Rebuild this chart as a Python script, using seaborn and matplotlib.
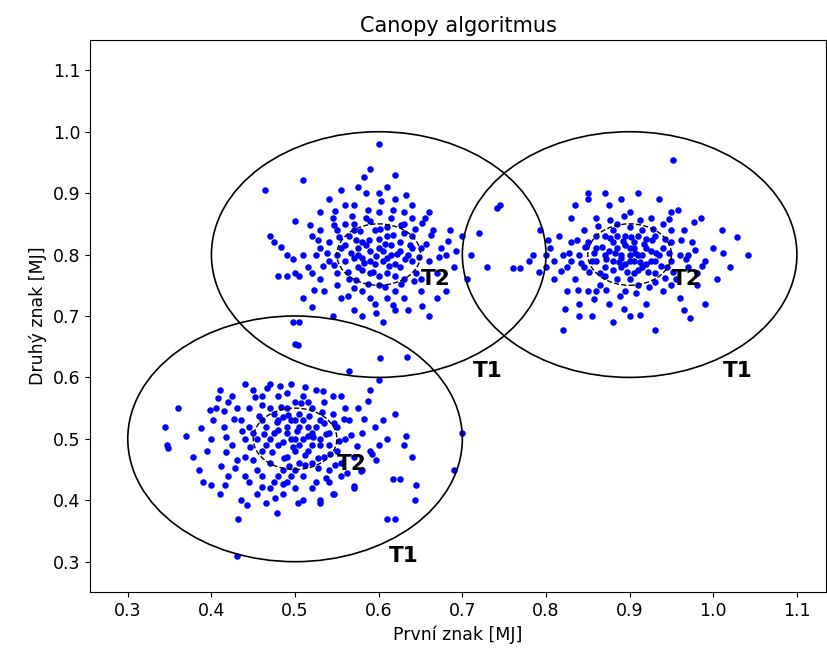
import numpy as np
import pandas as pd
import matplotlib
matplotlib.use("Agg")
import matplotlib.pyplot as plt
import seaborn as sns

# cluster centres and canopy thresholds
centers_x = [0.5, 0.6, 0.9]
centers_y = [0.5, 0.8, 0.8]
t1_radius = 0.2
t2_radius = 0.05

# points, one list per cluster
cluster_a = [
    (0.345, 0.52), (0.347, 0.49), (0.348, 0.485), (0.36, 0.55), (0.37, 0.505), (0.378, 0.47),
    (0.385, 0.45), (0.39, 0.43), (0.395, 0.48), (0.40, 0.425), (0.40, 0.50), (0.402, 0.53),
    (0.405, 0.55), (0.41, 0.58), (0.41, 0.41), (0.412, 0.455), (0.415, 0.52), (0.42, 0.44),
    (0.42, 0.56), (0.425, 0.49), (0.43, 0.31), (0.432, 0.37), (0.435, 0.53), (0.435, 0.40),
    (0.44, 0.59), (0.44, 0.47), (0.445, 0.55), (0.445, 0.43), (0.45, 0.51), (0.45, 0.58),
    (0.455, 0.45), (0.455, 0.41), (0.46, 0.53), (0.46, 0.57), (0.465, 0.49), (0.465, 0.395),
    (0.47, 0.59), (0.47, 0.55), (0.47, 0.46), (0.475, 0.51), (0.475, 0.43), (0.478, 0.38),
    (0.48, 0.57), (0.48, 0.53), (0.48, 0.49), (0.485, 0.45), (0.485, 0.41), (0.49, 0.55),
    (0.49, 0.51), (0.49, 0.47), (0.495, 0.59), (0.495, 0.53), (0.495, 0.44), (0.50, 0.50),
    (0.50, 0.56), (0.50, 0.48), (0.50, 0.42), (0.50, 0.655), (0.498, 0.69), (0.505, 0.52),
    (0.505, 0.46), (0.505, 0.54), (0.51, 0.50), (0.51, 0.57), (0.51, 0.44), (0.51, 0.40),
    (0.515, 0.52), (0.515, 0.48), (0.52, 0.55), (0.52, 0.46), (0.52, 0.51), (0.525, 0.58),
    (0.525, 0.43), (0.53, 0.49), (0.53, 0.53), (0.53, 0.40), (0.535, 0.47), (0.535, 0.56),
    (0.54, 0.51), (0.54, 0.45), (0.545, 0.54), (0.545, 0.41), (0.55, 0.48), (0.55, 0.52),
    (0.555, 0.57), (0.555, 0.44), (0.56, 0.50), (0.565, 0.61), (0.565, 0.53), (0.57, 0.42),
    (0.57, 0.47), (0.575, 0.55), (0.58, 0.45), (0.58, 0.51), (0.59, 0.58), (0.59, 0.48),
    (0.595, 0.52), (0.60, 0.595), (0.60, 0.49), (0.605, 0.53), (0.61, 0.50), (0.61, 0.37),
    (0.617, 0.435), (0.62, 0.54), (0.625, 0.435), (0.63, 0.49), (0.633, 0.505), (0.64, 0.47),
    (0.643, 0.40), (0.645, 0.425), (0.69, 0.45), (0.70, 0.51), (0.62, 0.37), (0.53, 0.395),
    (0.546, 0.41), (0.571, 0.424), (0.579, 0.448), (0.592, 0.475), (0.597, 0.466),
    (0.465, 0.52), (0.47, 0.50), (0.475, 0.54), (0.48, 0.515), (0.485, 0.495), (0.485, 0.535),
    (0.49, 0.52), (0.495, 0.50), (0.50, 0.53), (0.505, 0.49), (0.51, 0.53), (0.515, 0.505),
    (0.52, 0.49), (0.525, 0.52), (0.53, 0.50), (0.535, 0.525), (0.54, 0.49), (0.46, 0.48),
    (0.455, 0.50), (0.445, 0.52), (0.44, 0.50), (0.43, 0.55), (0.425, 0.57), (0.415, 0.545),
    (0.43, 0.465), (0.44, 0.44), (0.45, 0.465), (0.46, 0.44), (0.47, 0.42), (0.48, 0.44),
    (0.49, 0.43), (0.50, 0.45), (0.52, 0.42), (0.54, 0.43), (0.555, 0.46), (0.56, 0.55),
    (0.545, 0.57), (0.515, 0.56), (0.49, 0.575), (0.46, 0.555),
    (0.457, 0.537), (0.463, 0.508), (0.472, 0.478), (0.478, 0.527), (0.483, 0.552), (0.487, 0.468),
    (0.492, 0.538), (0.497, 0.486), (0.502, 0.512), (0.507, 0.558), (0.512, 0.474), (0.517, 0.537),
    (0.522, 0.503), (0.527, 0.468), (0.532, 0.544), (0.537, 0.508), (0.542, 0.476), (0.547, 0.525),
    (0.552, 0.497), (0.558, 0.532), (0.436, 0.512), (0.427, 0.532), (0.418, 0.503), (0.408, 0.566),
    (0.398, 0.547), (0.388, 0.518), (0.452, 0.568), (0.466, 0.582), (0.482, 0.586), (0.512, 0.585),
    (0.533, 0.578), (0.567, 0.506), (0.574, 0.488), (0.583, 0.532), (0.562, 0.445), (0.537, 0.437),
    (0.512, 0.457), (0.486, 0.427), (0.461, 0.422), (0.446, 0.487), (0.428, 0.452), (0.417, 0.478),
    (0.527, 0.452), (0.548, 0.458), (0.493, 0.456), (0.476, 0.403), (0.503, 0.396), (0.443, 0.392),
    (0.416, 0.425), (0.587, 0.562),
]

cluster_b = [
    (0.464, 0.905), (0.47, 0.83), (0.475, 0.82), (0.48, 0.765), (0.49, 0.765), (0.49, 0.80),
    (0.50, 0.855), (0.505, 0.765), (0.503, 0.653), (0.505, 0.69), (0.509, 0.921), (0.51, 0.73),
    (0.515, 0.78), (0.52, 0.715), (0.52, 0.83), (0.525, 0.80), (0.53, 0.76), (0.53, 0.87),
    (0.535, 0.74), (0.54, 0.82), (0.54, 0.79), (0.545, 0.86), (0.545, 0.70), (0.55, 0.77),
    (0.55, 0.84), (0.555, 0.73), (0.555, 0.81), (0.56, 0.88), (0.56, 0.79), (0.565, 0.76),
    (0.565, 0.83), (0.57, 0.71), (0.57, 0.85), (0.575, 0.80), (0.575, 0.78), (0.58, 0.74),
    (0.58, 0.82), (0.585, 0.90), (0.585, 0.86), (0.59, 0.79), (0.59, 0.77), (0.595, 0.84),
    (0.595, 0.72), (0.60, 0.81), (0.60, 0.98), (0.60, 0.75), (0.60, 0.87), (0.605, 0.79),
    (0.605, 0.69), (0.61, 0.83), (0.61, 0.77), (0.615, 0.80), (0.615, 0.86), (0.62, 0.74),
    (0.62, 0.89), (0.625, 0.82), (0.625, 0.78), (0.63, 0.76), (0.63, 0.85), (0.635, 0.71),
    (0.635, 0.80), (0.64, 0.83), (0.64, 0.88), (0.645, 0.77), (0.65, 0.81), (0.65, 0.74),
    (0.655, 0.86), (0.66, 0.79), (0.66, 0.70), (0.665, 0.84), (0.67, 0.77), (0.675, 0.81),
    (0.68, 0.74), (0.685, 0.84), (0.69, 0.78), (0.70, 0.83), (0.705, 0.76), (0.71, 0.80),
    (0.72, 0.835), (0.73, 0.78), (0.741, 0.875), (0.745, 0.88), (0.76, 0.778), (0.601, 0.632),
    (0.634, 0.633), (0.54, 0.89), (0.575, 0.91), (0.62, 0.93), (0.59, 0.94), (0.555, 0.905),
    (0.575, 0.81), (0.58, 0.795), (0.585, 0.815), (0.59, 0.805), (0.595, 0.785), (0.60, 0.825),
    (0.605, 0.805), (0.61, 0.795), (0.615, 0.815), (0.62, 0.785), (0.625, 0.805), (0.58, 0.775),
    (0.60, 0.765), (0.62, 0.765), (0.64, 0.79), (0.57, 0.795), (0.56, 0.815), (0.55, 0.80),
    (0.64, 0.81), (0.63, 0.835), (0.61, 0.845), (0.59, 0.855), (0.57, 0.84), (0.55, 0.75),
    (0.57, 0.745), (0.59, 0.73), (0.61, 0.73), (0.63, 0.73), (0.65, 0.76), (0.67, 0.73),
    (0.53, 0.81), (0.52, 0.77), (0.58, 0.70), (0.62, 0.71), (0.60, 0.90), (0.64, 0.86),
    (0.66, 0.87), (0.68, 0.80), (0.51, 0.80), (0.50, 0.77), (0.53, 0.84), (0.56, 0.85),
    (0.57, 0.88), (0.61, 0.91), (0.63, 0.87),
    (0.567, 0.803), (0.573, 0.823), (0.578, 0.838), (0.583, 0.786), (0.588, 0.823), (0.593, 0.772),
    (0.597, 0.797), (0.602, 0.842), (0.607, 0.818), (0.612, 0.782), (0.617, 0.832), (0.622, 0.801),
    (0.627, 0.848), (0.632, 0.792), (0.637, 0.816), (0.643, 0.842), (0.648, 0.796), (0.553, 0.828),
    (0.547, 0.783), (0.538, 0.803), (0.528, 0.823), (0.518, 0.848), (0.563, 0.772), (0.573, 0.758),
    (0.587, 0.752), (0.607, 0.748), (0.627, 0.752), (0.642, 0.757), (0.657, 0.818), (0.662, 0.832),
    (0.672, 0.796), (0.683, 0.822), (0.587, 0.873), (0.603, 0.887), (0.568, 0.862), (0.548, 0.871),
    (0.617, 0.872), (0.633, 0.897), (0.652, 0.851), (0.563, 0.733), (0.597, 0.705), (0.533, 0.781),
    (0.497, 0.792), (0.483, 0.812), (0.523, 0.742), (0.617, 0.718), (0.652, 0.717), (0.693, 0.805),
    (0.582, 0.926), (0.547, 0.848),
]

cluster_c = [
    (0.769, 0.778), (0.78, 0.79), (0.785, 0.80), (0.793, 0.84), (0.80, 0.78), (0.805, 0.81),
    (0.81, 0.76), (0.815, 0.83), (0.82, 0.677), (0.82, 0.80), (0.825, 0.74), (0.825, 0.78),
    (0.83, 0.82), (0.83, 0.86), (0.835, 0.76), (0.835, 0.88), (0.84, 0.80), (0.84, 0.72),
    (0.845, 0.78), (0.845, 0.84), (0.85, 0.74), (0.85, 0.82), (0.85, 0.90), (0.855, 0.79),
    (0.855, 0.70), (0.86, 0.81), (0.86, 0.86), (0.865, 0.77), (0.865, 0.75), (0.87, 0.83),
    (0.87, 0.80), (0.875, 0.88), (0.875, 0.72), (0.88, 0.79), (0.88, 0.82), (0.885, 0.76),
    (0.885, 0.85), (0.89, 0.80), (0.89, 0.78), (0.895, 0.83), (0.895, 0.74), (0.90, 0.81),
    (0.90, 0.79), (0.90, 0.87), (0.905, 0.77), (0.905, 0.82), (0.91, 0.80), (0.91, 0.75),
    (0.915, 0.84), (0.915, 0.78), (0.92, 0.81), (0.92, 0.72), (0.925, 0.86), (0.925, 0.79),
    (0.93, 0.677), (0.93, 0.77), (0.93, 0.83), (0.935, 0.80), (0.94, 0.74), (0.94, 0.85),
    (0.945, 0.78), (0.95, 0.82), (0.952, 0.954), (0.955, 0.76), (0.96, 0.80), (0.965, 0.71),
    (0.965, 0.84), (0.97, 0.78), (0.972, 0.697), (0.975, 0.82), (0.98, 0.75), (0.985, 0.86),
    (0.99, 0.79), (1.00, 0.81), (1.005, 0.76), (1.01, 0.84), (1.02, 0.78), (1.028, 0.828),
    (1.042, 0.80), (0.85, 0.89), (0.87, 0.90), (0.89, 0.89), (0.91, 0.90), (0.935, 0.89),
    (0.95, 0.87), (0.96, 0.73), (0.99, 0.72), (0.88, 0.69), (0.90, 0.70), (0.84, 0.70),
    (0.875, 0.805), (0.88, 0.775), (0.885, 0.81), (0.89, 0.795), (0.895, 0.815), (0.895, 0.785),
    (0.90, 0.80), (0.905, 0.79), (0.905, 0.81), (0.91, 0.775), (0.915, 0.80), (0.92, 0.785),
    (0.92, 0.825), (0.925, 0.805), (0.93, 0.79), (0.885, 0.83), (0.91, 0.83), (0.87, 0.78),
    (0.86, 0.79), (0.94, 0.81), (0.87, 0.765), (0.90, 0.76), (0.93, 0.755), (0.95, 0.79),
    (0.86, 0.83), (0.88, 0.84), (0.90, 0.845), (0.95, 0.84), (0.97, 0.80), (0.98, 0.77),
    (0.81, 0.79), (0.83, 0.79), (0.80, 0.80), (0.86, 0.74), (0.95, 0.75),
    (0.867, 0.812), (0.872, 0.792), (0.877, 0.827), (0.882, 0.803), (0.887, 0.788), (0.892, 0.822),
    (0.897, 0.772), (0.902, 0.828), (0.907, 0.802), (0.912, 0.788), (0.917, 0.818), (0.922, 0.772),
    (0.927, 0.823), (0.932, 0.803), (0.937, 0.782), (0.942, 0.826), (0.947, 0.802), (0.952, 0.772),
    (0.857, 0.803), (0.852, 0.772), (0.847, 0.813), (0.842, 0.787), (0.837, 0.823), (0.828, 0.803),
    (0.818, 0.773), (0.862, 0.846), (0.877, 0.857), (0.893, 0.862), (0.912, 0.857), (0.928, 0.842),
    (0.947, 0.858), (0.962, 0.823), (0.967, 0.793), (0.978, 0.808), (0.987, 0.782), (0.872, 0.742),
    (0.888, 0.732), (0.908, 0.738), (0.923, 0.748), (0.942, 0.762), (0.857, 0.728), (0.893, 0.712),
    (0.913, 0.702), (0.838, 0.742), (0.823, 0.712), (0.958, 0.872), (0.977, 0.853), (1.012, 0.803),
    (0.803, 0.823), (0.792, 0.772),
]

pts = np.array(cluster_a + cluster_b + cluster_c)
df = pd.DataFrame({"x": pts[:, 0], "y": pts[:, 1]})

fig = plt.figure(figsize=(8.27, 6.59), dpi=100)
ax = fig.add_axes([0.109, 0.102, 0.89, 0.837])

sns.scatterplot(data=df, x="x", y="y", color="blue", s=22, linewidth=0, ax=ax)

for cx, cy in zip(centers_x, centers_y):
    ax.add_patch(plt.Circle((cx, cy), t1_radius, fill=False, color="black", lw=1.2))
    ax.add_patch(plt.Circle((cx, cy), t2_radius, fill=False, color="black", lw=1.0, ls="--"))
    ax.text(cx + 0.112, cy - t1_radius, "T1", fontsize=15.5, fontweight="bold", va="baseline")
    ax.text(cx + t2_radius, cy - t2_radius, "T2", fontsize=15.5, fontweight="bold", va="baseline")

ax.set_xlim(0.255, 1.135)
ax.set_ylim(0.251, 1.149)
ax.set_xticks(np.arange(0.3, 1.15, 0.1))
ax.set_yticks(np.arange(0.3, 1.15, 0.1))
ax.tick_params(labelsize=12.5)
ax.set_xlabel("První znak [MJ]", fontsize=12.5)
ax.set_ylabel("Druhý znak [MJ]", fontsize=12.5)
ax.set_title("Canopy algoritmus", fontsize=15)

fig.savefig("out.png", dpi=100)
